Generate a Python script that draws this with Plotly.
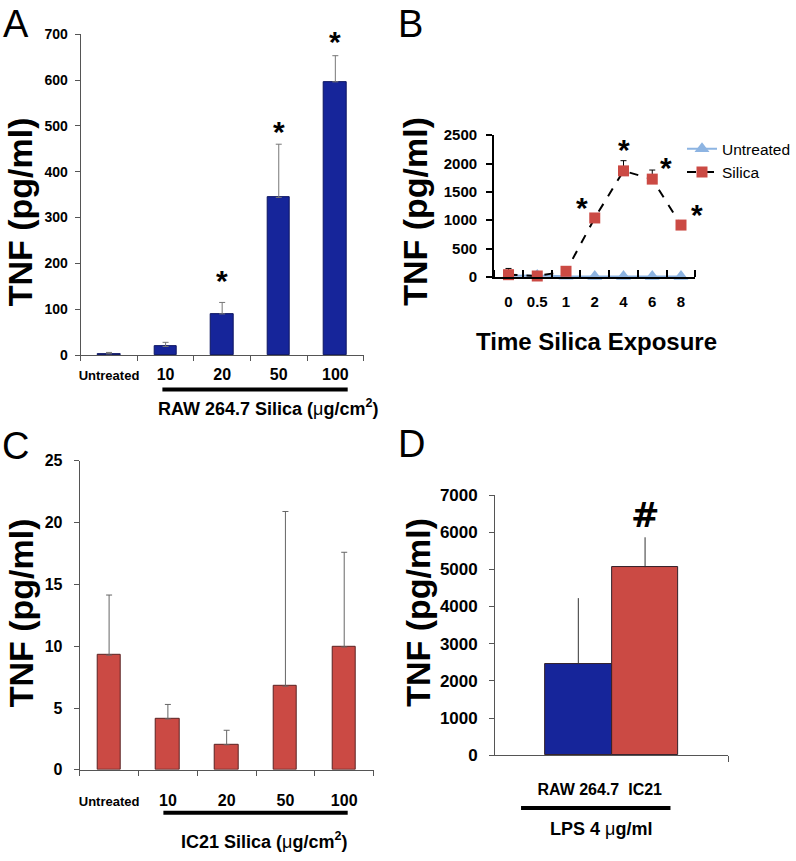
import plotly.graph_objects as go

# ---------------- data ----------------
a_categories = ["Untreated", "10", "20", "50", "100"]
a_values = [3, 19, 90, 344, 596]
a_errors = [3, 9, 25, 116, 57]
a_sig = [False, False, True, True, True]
a_yticks = [0, 100, 200, 300, 400, 500, 600, 700]

b_times = ["0", "0.5", "1", "2", "4", "6", "8"]
b_untreated = [20, 25, 12, 10, 10, 10, 10]
b_silica = [40, 17, 100, 1040, 1870, 1725, 915]
b_silica_err = [110, 60, 40, 40, 180, 160, 30]
b_sig = [False, False, False, True, True, True, True]
b_yticks = [0, 500, 1000, 1500, 2000, 2500]

c_categories = ["Untreated", "10", "20", "50", "100"]
c_values = [9.28, 4.12, 2.03, 6.77, 9.94]
c_errors = [4.86, 1.17, 1.17, 14.13, 7.66]
c_yticks = [0, 5, 10, 15, 20, 25]

d_categories = ["RAW 264.7", "IC21"]
d_values = [2450, 5058]
d_errors = [1776, 805]
d_yticks = [0, 1000, 2000, 3000, 4000, 5000, 6000, 7000]

# ---------------- helpers ----------------
W, H = 796, 861
FONT = "Liberation Sans, Arial, Helvetica, sans-serif"
BLUE = "#16259A"
RED = "#CB4A44"
LBLUE = "#8DB4E2"
AX = "#555555"


def px(x):
    return x / W


def py(y):
    return 1 - y / H


def bold(vals):
    return ["<b>%s</b>" % v for v in vals]


fig = go.Figure()

a_idx = list(range(len(a_categories)))
b_idx = list(range(len(b_times)))
c_idx = list(range(len(c_categories)))
d_idx = list(range(len(d_categories)))

# Panel A
fig.add_trace(go.Bar(
    x=a_idx, y=a_values, width=0.4,
    marker=dict(color=BLUE, line=dict(color="#0b1460", width=1)),
    error_y=dict(type="data", symmetric=False, array=a_errors,
                 arrayminus=[0] * len(a_errors), color="#777777",
                 thickness=1, width=3),
    xaxis="x", yaxis="y", showlegend=False))

# Panel B
fig.add_trace(go.Scatter(
    x=b_idx, y=b_untreated, mode="lines+markers", name="Untreated",
    line=dict(color=LBLUE, width=2),
    marker=dict(symbol="triangle-up", size=13, color=LBLUE),
    cliponaxis=False, xaxis="x2", yaxis="y2"))
fig.add_trace(go.Scatter(
    x=b_idx, y=b_silica, mode="lines+markers", name="Silica",
    line=dict(color="black", width=2, dash="dash"),
    marker=dict(symbol="square", size=11, color=RED),
    error_y=dict(type="data", symmetric=False, array=b_silica_err,
                 arrayminus=[0] * len(b_silica_err), color="black",
                 thickness=1, width=3),
    cliponaxis=False, xaxis="x2", yaxis="y2"))

# Panel C
fig.add_trace(go.Bar(
    x=c_idx, y=c_values, width=0.4,
    marker=dict(color=RED, line=dict(color="#5a2222", width=1)),
    error_y=dict(type="data", symmetric=False, array=c_errors,
                 arrayminus=[0] * len(c_errors), color="#666666",
                 thickness=1, width=3),
    xaxis="x3", yaxis="y3", showlegend=False))

# Panel D
fig.add_trace(go.Bar(
    x=d_idx, y=d_values, width=1.0,
    marker=dict(color=[BLUE, RED], line=dict(color="#33202a", width=1)),
    error_y=dict(type="data", symmetric=False, array=d_errors,
                 arrayminus=[0] * len(d_errors), color="#333333",
                 thickness=1, width=0),
    xaxis="x4", yaxis="y4", showlegend=False))


def tf(s):
    return dict(family=FONT, size=s, color="black")


common_ax = dict(showgrid=False, zeroline=False, showline=True,
                 linecolor=AX, linewidth=1, tickcolor=AX)
b_ax = dict(showgrid=False, zeroline=False, showline=True,
            linecolor="black", linewidth=2, tickcolor="black", tickwidth=2)

a_ticktext = ["<b><span style='font-size:13px'>Untreated</span></b>"] + bold(a_categories[1:])
c_ticktext = ["<b><span style='font-size:13px'>Untreated</span></b>"] + bold(c_categories[1:])

fig.update_layout(
    width=W, height=H, margin=dict(l=0, r=0, t=0, b=0),
    plot_bgcolor="white", paper_bgcolor="white",
    font=dict(family=FONT, color="black"),
    bargap=0,
    xaxis=dict(domain=[px(79), px(363)], anchor="y", range=[-0.5, 4.5],
               tickvals=a_idx, ticktext=a_ticktext, tickangle=0,
               ticks="", ticklabelstandoff=5,
               minor=dict(tickmode="array", tickvals=[i - 0.5 for i in a_idx] + [a_idx[-1] + 0.5],
                          ticks="outside", ticklen=5, tickcolor=AX),
               tickfont=tf(16), **common_ax),
    yaxis=dict(domain=[py(354), py(25.7)], anchor="x", range=[0, 700],
               tickvals=a_yticks, ticktext=bold(a_yticks),
               ticks="outside", ticklen=5, ticklabelstandoff=4,
               tickfont=tf(14), **common_ax),
    xaxis2=dict(domain=[px(494), px(696)], anchor="y2", range=[-0.5, 6.5],
                tickvals=b_idx, ticktext=bold(b_times), tickangle=0,
                ticks="", ticklabelstandoff=10,
                minor=dict(tickmode="array", tickvals=[i - 0.5 for i in b_idx] + [b_idx[-1] + 0.5],
                           ticks="inside", ticklen=7, tickcolor="black", tickwidth=2),
                tickfont=tf(15), **b_ax),
    yaxis2=dict(domain=[py(274), py(129)], anchor="x2", range=[0, 2500],
                tickvals=b_yticks, ticktext=bold(b_yticks),
                ticks="outside", ticklen=6, ticklabelstandoff=6,
                tickfont=tf(15), **b_ax),
    xaxis3=dict(domain=[px(78), px(373)], anchor="y3", range=[-0.5, 4.5],
                tickvals=c_idx, ticktext=c_ticktext, tickangle=0,
                ticks="", ticklabelstandoff=16,
                minor=dict(tickmode="array", tickvals=[i - 0.5 for i in c_idx] + [c_idx[-1] + 0.5],
                           ticks="outside", ticklen=5, tickcolor=AX),
                tickfont=tf(16), **common_ax),
    yaxis3=dict(domain=[py(778), py(462)], anchor="x3", range=[0, 25],
                tickvals=c_yticks, ticktext=bold(c_yticks),
                ticks="outside", ticklen=5, ticklabelstandoff=8,
                tickfont=tf(16), **common_ax),
    xaxis4=dict(domain=[px(495), px(729)], anchor="y4",
                range=[-1.246, 2.246], tickvals=d_idx, ticktext=bold(d_categories),
                tickangle=0, ticks="", ticklabelstandoff=20, tickfont=tf(16),
                minor=dict(tickmode="array", tickvals=[2.246], ticks="outside",
                           ticklen=6, tickcolor=AX),
                **common_ax),
    yaxis4=dict(domain=[py(763), py(497)], anchor="x4", range=[0, 7000],
                tickvals=d_yticks, ticktext=bold(d_yticks),
                ticks="outside", ticklen=5, ticklabelstandoff=8,
                tickfont=tf(17), **common_ax),
    legend=dict(x=px(683), y=py(126), xanchor="left", yanchor="top",
                font=dict(family=FONT, size=15.5, color="black"),
                bgcolor="rgba(0,0,0,0)", tracegroupgap=0, itemwidth=30),
)

ann = []


def txt(text, x, y, size, angle=0, family=FONT):
    return dict(text=text, x=px(x), y=py(y), xref="paper", yref="paper",
                showarrow=False, xanchor="center", yanchor="middle",
                textangle=angle, font=dict(family=family, size=size, color="black"))


# Panel letters
for letter, (lx, ly) in zip("ABCD", [(14.5, 15), (410, 15), (14, 447), (411, 445)]):
    ann.append(txt(letter, lx, ly, 38))

# Y titles
for (tx, ty) in [(19, 207), (415, 207), (19, 617), (418, 617)]:
    ann.append(txt("<b>TNF (pg/ml)</b>", tx, ty, 34, -90))

# Subtitles
ann.append(txt("<b>RAW 264.7 Silica (</b>μ<b>g/cm<sup>2</sup>)</b>", 267, 408, 18))
ann.append(txt("<b>IC21 Silica (</b>μ<b>g/cm<sup>2</sup>)</b>", 263, 850, 18))
ann.append(txt("<b>LPS 4 </b>μ<b>g/ml</b>", 601, 838, 18))
ann.append(txt("<b>Time Silica Exposure</b>", 597, 340, 24))

# Significance stars A
a_shift = [0, 0, 3, -6, -4]
for i, v, e, s, sy in zip(a_idx, a_values, a_errors, a_sig, a_shift):
    if s:
        ann.append(dict(text="<b>*</b>", x=i, y=v + e, xref="x", yref="y",
                        showarrow=False, xanchor="center", yanchor="bottom", yshift=sy,
                        font=dict(family=FONT, size=30, color="black")))

# Significance stars B
b_shift = [(0, 0), (0, 0), (0, 0), (-13, -10), (0, -7), (14, -16), (16, -10)]
for i, v, e, s, (sx, sy) in zip(b_idx, b_silica, b_silica_err, b_sig, b_shift):
    if s:
        ann.append(dict(text="<b>*</b>", x=i, y=v + e, xref="x2", yref="y2",
                        showarrow=False, xanchor="center", yanchor="bottom",
                        xshift=sx, yshift=sy,
                        font=dict(family=FONT, size=30, color="black")))

# D hash
ann.append(dict(text="<b>#</b>", x=d_idx[1], y=d_values[1] + d_errors[1], xref="x4", yref="y4",
                showarrow=False, xanchor="center", yanchor="bottom", yshift=0,
                font=dict(family="DejaVu Sans, " + FONT, size=34, color="black")))

fig.update_layout(annotations=ann)

# underline bars
shapes = []
for (x0, x1, y) in [(161, 347, 389), (162, 347, 822), (521, 671, 817)]:
    shapes.append(dict(type="line", xref="paper", yref="paper",
                       x0=px(x0), x1=px(x1), y0=py(y), y1=py(y),
                       line=dict(color="black", width=4)))
fig.update_layout(shapes=shapes)

fig.write_html("out.html", config={"displayModeBar": False},
               post_script="document.body.style.margin='0px';document.body.style.overflow='hidden';")
